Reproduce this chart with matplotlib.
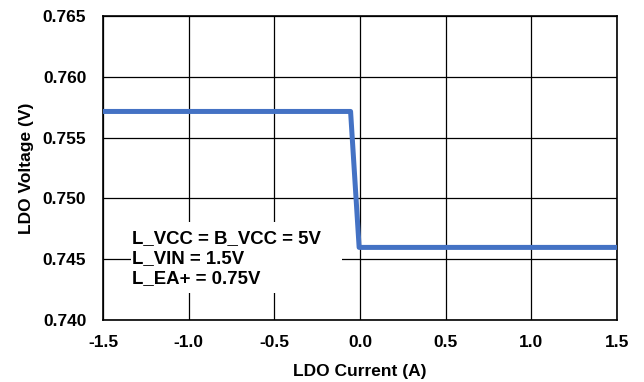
import matplotlib
matplotlib.use("Agg")
import matplotlib.pyplot as plt
from matplotlib.patches import Rectangle

plt.rcParams['font.family'] = ['Liberation Sans', 'DejaVu Sans']
plt.rcParams['font.weight'] = 'bold'

current = [-1.5, -0.055, -0.005, 1.5]
voltage = [0.75715, 0.75715, 0.74597, 0.74597]
x_ticks = [-1.5, -1.0, -0.5, 0.0, 0.5, 1.0, 1.5]
y_ticks = [0.740, 0.745, 0.750, 0.755, 0.760, 0.765]

fig = plt.figure(figsize=(6.44, 3.82), dpi=100)
ax = fig.add_axes([103/644, 1 - 320/382, (617-103)/644, (320-16)/382])

ax.plot(current, voltage, color='#4472C4', lw=3.6, solid_joinstyle='round', zorder=3)

ax.set_xlim(-1.5, 1.5)
ax.set_ylim(0.740, 0.765)
ax.set_xticks(x_ticks)
ax.set_yticks(y_ticks)
ax.set_xticklabels([f"{v:.1f}" for v in x_ticks], fontsize=12.5, fontweight='bold')
ax.set_yticklabels([f"{v:.3f}" for v in y_ticks], fontsize=12.5, fontweight='bold')
ax.tick_params(axis='x', length=0, pad=11)
ax.tick_params(axis='y', length=0, pad=12)
ax.grid(True, color='black', lw=0.9)
for s in ax.spines.values():
    s.set_color('black')
    s.set_linewidth(1.2)

ax.set_xlabel('LDO Current (A)', fontsize=12.5, fontweight='bold', labelpad=10)
ax.set_ylabel('LDO Voltage (V)', fontsize=12.5, fontweight='bold', labelpad=6)

# white panel behind the conditions note
ax.add_patch(Rectangle((0.054, 0.089), 0.411, 0.233, transform=ax.transAxes,
                       facecolor='white', edgecolor='none', zorder=2.5))
ax.text(0.056, 0.202,
        'L_VCC = B_VCC = 5V\nL_VIN = 1.5V\nL_EA+ = 0.75V',
        transform=ax.transAxes,
        fontsize=13.4, fontweight='bold', va='center', ha='left', linespacing=1.2,
        zorder=4)

fig.savefig('out.png', dpi=100)
